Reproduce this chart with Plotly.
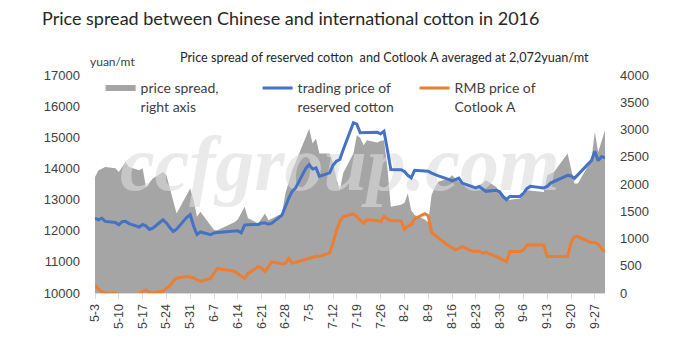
import pandas as pd
import plotly.graph_objects as go

YEAR = "2016-"

# ---- price spread (right axis), yuan/mt ----
spread_dates = ["5-3", "5-4", "5-6", "5-9", "5-10", "5-12", "5-13", "5-16", "5-17", "5-18",
                "5-20", "5-23", "5-24", "5-27", "5-31", "6-1", "6-2", "6-3", "6-7", "6-8",
                "6-13", "6-14", "6-16", "6-17", "6-20", "6-22", "6-23", "6-27", "6-28", "6-30",
                "7-1", "7-5", "7-6", "7-7", "7-8", "7-11", "7-12", "7-13", "7-14", "7-15",
                "7-18", "7-19", "7-20", "7-21", "7-22", "7-25", "7-26", "7-27", "7-28", "7-29",
                "8-1", "8-2", "8-3", "8-4", "8-5", "8-8", "8-9", "8-10", "8-11", "8-12",
                "8-15", "8-16", "8-17", "8-19", "8-22", "8-25", "8-26", "8-29", "8-30", "9-1",
                "9-5", "9-7", "9-12", "9-13", "9-15", "9-19", "9-21", "9-22", "9-26", "9-27",
                "9-28", "9-30"]
spread_values = [2130, 2250, 2313, 2290, 2222, 2405, 2313, 2253, 2290, 1947,
                 2100, 2222, 2161, 1460, 1917, 1700, 1398, 1489, 1154, 1150,
                 1300, 1350, 1581, 1370, 1276, 1460, 1337, 1460, 1826, 2253,
                 2400, 3016, 2742, 2833, 2558, 2558, 2400, 2100, 1886, 2200,
                 2558, 2894, 2850, 2711, 2802, 2760, 2790, 2802, 2300, 1581,
                 1620, 1650, 1826, 1520, 1430, 1350, 1300, 1800, 1947, 2040,
                 2100, 2161, 2100, 2000, 1917, 2009, 2070, 1947, 1850, 1703,
                 1734, 1886, 1855, 2161, 2222, 2558, 2009, 2009, 2436, 2954,
                 2588, 2985]

# ---- prices (left axis), yuan/mt ----
price_dates = ["5-3", "5-4", "5-5", "5-6", "5-9", "5-10", "5-11", "5-12", "5-13", "5-16",
               "5-17", "5-18", "5-19", "5-20", "5-23", "5-24", "5-25", "5-26", "5-27", "5-30",
               "5-31", "6-1", "6-2", "6-3", "6-6", "6-7", "6-8", "6-13", "6-14", "6-15",
               "6-16", "6-17", "6-20", "6-21", "6-22", "6-23", "6-24", "6-27", "6-28", "6-29",
               "6-30", "7-1", "7-4", "7-5", "7-6", "7-7", "7-8", "7-11", "7-12", "7-13",
               "7-14", "7-15", "7-18", "7-19", "7-20", "7-21", "7-22", "7-25", "7-26", "7-27",
               "7-28", "7-29", "8-1", "8-2", "8-3", "8-4", "8-5", "8-8", "8-9", "8-10",
               "8-11", "8-12", "8-15", "8-16", "8-17", "8-18", "8-19", "8-22", "8-23", "8-24",
               "8-25", "8-26", "8-29", "8-30", "8-31", "9-1", "9-2", "9-5", "9-6", "9-7",
               "9-8", "9-9", "9-12", "9-13", "9-14", "9-19", "9-20", "9-21", "9-22", "9-23",
               "9-26", "9-27", "9-28", "9-29", "9-30"]
reserved_price = [12407, 12350, 12400, 12300, 12265, 12190, 12290, 12300, 12230, 12120,
                  12200, 12150, 12040, 12080, 12350, 12250, 12100, 11975, 12050, 12430,
                  12513, 12150, 11880, 11960, 11870, 11930, 11945, 12000, 12000, 11930,
                  12180, 12190, 12200, 12245, 12250, 12210, 12240, 12500, 12780, 13050,
                  13264, 13373, 14000, 14124, 13980, 14018, 13747, 13856, 14100, 14230,
                  14285, 14600, 15467, 15420, 15145, 15145, 15150, 15160, 15110, 15197,
                  14600, 13963, 13960, 13900, 13780, 13695, 13940, 13930, 13908, 13850,
                  13800, 13760, 13650, 13600, 13641, 13690, 13530, 13400, 13373, 13420,
                  13330, 13264, 13300, 13250, 13100, 12996, 13102, 13102, 13200, 13350,
                  13425, 13410, 13373, 13420, 13530, 13780, 13760, 13680, 13800, 13920,
                  14250, 14552, 14250, 14380, 14340]
cotlook_rmb = [10250, 10120, 10040, 10000, 9990, 9950, 9930, 9910, 9900, 9960,
               10050, 10100, 10020, 10000, 10060, 10150, 10230, 10380, 10480, 10530,
               10520, 10490, 10420, 10380, 10470, 10650, 10790, 10700, 10620, 10530,
               10470, 10620, 10850, 10800, 10690, 10850, 11000, 10930, 10960, 11110,
               10960, 10980, 11080, 11120, 11170, 11180, 11180, 11280, 11600, 12000,
               12300, 12450, 12545, 12450, 12350, 12245, 12350, 12330, 12290, 12460,
               12380, 12330, 12310, 12050, 12150, 12190, 12380, 12545, 12480, 11950,
               11850, 11760, 11520, 11450, 11385, 11430, 11490, 11340, 11330, 11350,
               11280, 11310, 11180, 11120, 11060, 11000, 11330, 11330, 11380, 11530,
               11550, 11550, 11540, 11170, 11170, 11180, 11620, 11800, 11820, 11760,
               11620, 11620, 11560, 11420, 11330]

tick_labels = ["5-3", "5-10", "5-17", "5-24", "5-31", "6-7", "6-14", "6-21", "6-28", "7-5",
               "7-12", "7-19", "7-26", "8-2", "8-9", "8-16", "8-23", "8-30", "9-6", "9-13",
               "9-20", "9-27"]

left_ticks = [10000, 11000, 12000, 13000, 14000, 15000, 16000, 17000]
right_ticks = [0, 500, 1000, 1500, 2000, 2500, 3000, 3500, 4000]

title_text = "Price spread between Chinese and international cotton in 2016"
subtitle_text = "Price spread of reserved cotton  and Cotlook A averaged at 2,072yuan/mt"
unit_text = "yuan/mt"
watermark_text = "ccfgroup.com"


def to_dt(labels):
    return pd.to_datetime([YEAR + s for s in labels], format="%Y-%m-%d")


sx = to_dt(spread_dates)
px_ = to_dt(price_dates)
tx = to_dt(tick_labels)
x_start, x_end = sx.min(), sx.max()

TXT = "#404040"
FONT = "Lato"

fig = go.Figure()

# price spread area on the primary axis (shown on the right side)
fig.add_trace(go.Scatter(
    x=sx, y=spread_values, name="price spread,<br>right axis",
    mode="none", fill="tozeroy", fillcolor="#A5A5A5",
    xaxis="x", yaxis="y"))

# watermark sits between the area and the lines
fig.add_trace(go.Scatter(
    x=[x_start + (x_end - x_start) * 0.48], y=[right_ticks[-1] * 0.56],
    mode="text", text=[watermark_text], showlegend=False, hoverinfo="skip",
    textfont=dict(family="Liberation Serif", size=78, style="italic", weight="bold",
                  color="rgba(220,220,220,0.6)"),
    xaxis="x", yaxis="y"))

fig.add_trace(go.Scatter(
    x=px_, y=reserved_price, name="trading price of<br>reserved cotton",
    mode="lines", line=dict(color="#4472C4", width=3),
    xaxis="x", yaxis="y2"))

fig.add_trace(go.Scatter(
    x=px_, y=cotlook_rmb, name="RMB price of<br>Cotlook A",
    mode="lines", line=dict(color="#ED7D31", width=3),
    xaxis="x", yaxis="y2"))

# the page body adds an 8px offset, so the figure is 8px smaller than the window
fig.update_layout(
    width=681, height=351,
    margin=dict(l=87, r=84, t=67, b=66),
    paper_bgcolor="white", plot_bgcolor="white",
    font=dict(family=FONT, color=TXT),
    showlegend=True,
    legend=dict(orientation="h", x=0.011, y=1.012, xanchor="left", yanchor="top",
                bgcolor="rgba(0,0,0,0)", font=dict(family=FONT, size=14, color=TXT),
                entrywidth=112, entrywidthmode="pixels", itemwidth=30,
                valign="top", traceorder="normal", tracegroupgap=0),
    xaxis=dict(type="date", range=[x_start, x_end], tickmode="array",
               tickvals=tx, ticktext=tick_labels, tickangle=-90,
               tickfont=dict(family="Liberation Sans", size=12.5, color=TXT),
               showgrid=False, zeroline=False, showline=True, linecolor="#D9D9D9",
               linewidth=1, ticks="outside", ticklen=5, tickcolor="#D9D9D9"),
    yaxis=dict(side="right", range=[0, 4000], tickvals=right_ticks, tickformat="d",
               tickfont=dict(family="Liberation Sans", size=13, color=TXT),
               showgrid=False, zeroline=False, showline=False, ticks="",
               ticklabelstandoff=14),
    yaxis2=dict(side="left", overlaying="y", range=[10000, 17000], tickvals=left_ticks,
                tickformat="d",
                tickfont=dict(family="Liberation Sans", size=13, color=TXT),
                showgrid=False, zeroline=False, showline=False, ticks="",
                ticklabelstandoff=14),
    annotations=[
        dict(text=title_text, xref="paper", yref="paper", x=-0.108, y=1.261,
             xanchor="left", yanchor="middle", showarrow=False,
             font=dict(family=FONT, size=18, color="#262626")),
        dict(text=subtitle_text, xref="paper", yref="paper", x=0.163, y=1.083,
             xanchor="left", yanchor="middle", showarrow=False,
             font=dict(family=FONT, size=12.7, color="#262626")),
        dict(text=unit_text, xref="paper", yref="paper", x=-0.013, y=1.06,
             xanchor="left", yanchor="middle", showarrow=False,
             font=dict(family=FONT, size=12, color=TXT)),
    ],
)

fig.write_html("out.html")
